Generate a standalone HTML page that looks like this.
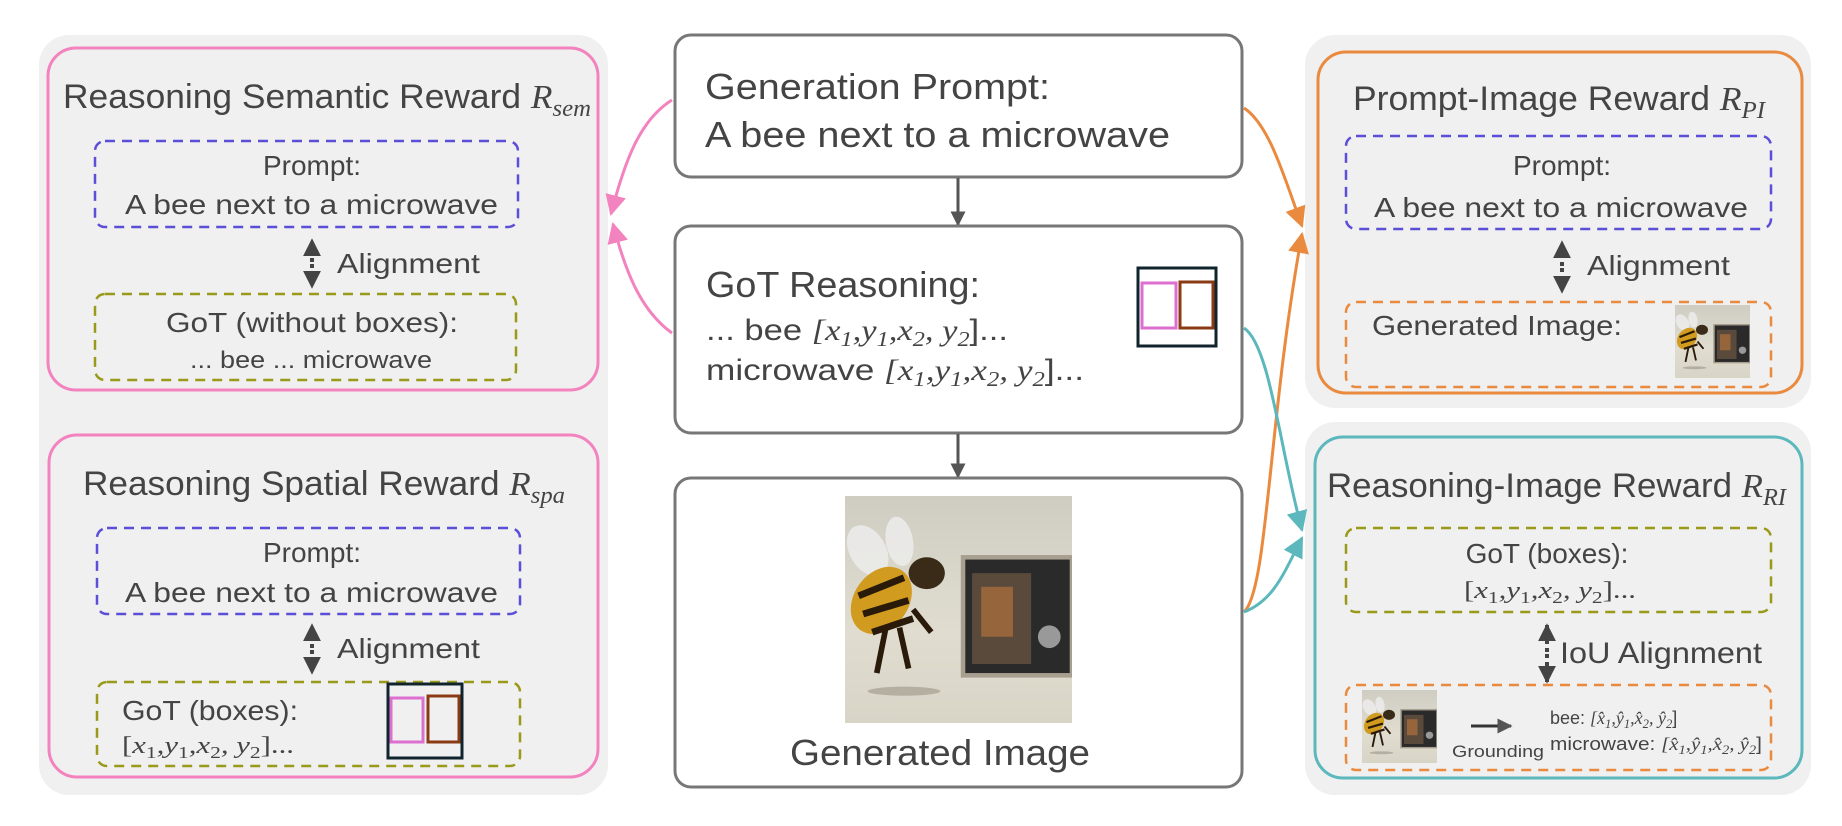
<!DOCTYPE html>
<html><head><meta charset="utf-8"><style>
html,body{margin:0;padding:0;background:#fff;}
svg{display:block;}
text{font-family:"Liberation Sans",sans-serif;fill:#444;}
.m{font-family:"Liberation Serif",serif;font-style:italic;}
.s{font-size:70%;}
</style></head><body>
<svg width="1842" height="826" viewBox="0 0 1842 826" xmlns="http://www.w3.org/2000/svg">
<defs>
<symbol id="bee" viewBox="0 0 100 100" preserveAspectRatio="none">
<defs><linearGradient id="bg" x1="0" y1="0" x2="0" y2="1"><stop offset="0" stop-color="#cfcdc2"/><stop offset="0.6" stop-color="#e0ddd0"/><stop offset="1" stop-color="#d8d4c6"/></linearGradient></defs>
<rect width="100" height="100" fill="url(#bg)"/>
<rect x="52" y="27" width="48" height="52" fill="#2a2a2a"/>
<rect x="52" y="27" width="48" height="52" fill="none" stroke="#a89f90" stroke-width="2"/>
<rect x="56" y="34" width="26" height="40" fill="#5a4a3c"/>
<rect x="60" y="40" width="14" height="22" fill="#b0703c" opacity="0.7"/>
<circle cx="90" cy="62" r="5" fill="#999"/>
<ellipse cx="10" cy="24" rx="8" ry="12" fill="#eee" opacity="0.8" transform="rotate(-30 10 24)"/>
<ellipse cx="24" cy="20" rx="6" ry="11" fill="#eee" opacity="0.8" transform="rotate(-10 24 20)"/>
<ellipse cx="16" cy="46" rx="12" ry="16" fill="#d19b1f" transform="rotate(35 16 46)"/>
<path d="M6 44 L26 36 M8 52 L28 46 M12 60 L30 54" stroke="#2a1a0a" stroke-width="3"/>
<ellipse cx="36" cy="34" rx="8" ry="7" fill="#3a2a18"/>
<path d="M18 58 L14 78 M24 58 L28 76 M30 50 L38 60" stroke="#2a1a0a" stroke-width="2.5"/>
<ellipse cx="26" cy="86" rx="16" ry="2" fill="#9a9486" opacity="0.6"/>
</symbol>
<marker id="ap" viewBox="0 0 10 10" refX="9" refY="5" markerWidth="7" markerHeight="7" orient="auto"><path d="M0 0 L10 5 L0 10 Z" fill="#f383be"/></marker>
<marker id="ao" viewBox="0 0 10 10" refX="9" refY="5" markerWidth="7" markerHeight="7" orient="auto"><path d="M0 0 L10 5 L0 10 Z" fill="#ea8a3e"/></marker>
<marker id="at" viewBox="0 0 10 10" refX="9" refY="5" markerWidth="7" markerHeight="7" orient="auto"><path d="M0 0 L10 5 L0 10 Z" fill="#5cb8bc"/></marker>
<marker id="ag" viewBox="0 0 10 10" refX="9" refY="5" markerWidth="5" markerHeight="5" orient="auto"><path d="M0 0 L10 5 L0 10 Z" fill="#555"/></marker>
<marker id="ad" viewBox="0 0 10 10" refX="9" refY="5" markerWidth="4.5" markerHeight="4.5" orient="auto"><path d="M0 0 L10 5 L0 10 Z" fill="#444"/></marker>
</defs>

<!-- gray backgrounds -->
<rect x="39" y="35" width="569" height="760" rx="30" fill="#f0f0f0"/>
<rect x="1305" y="35" width="506" height="373" rx="30" fill="#f0f0f0"/>
<rect x="1305" y="422" width="506" height="373" rx="30" fill="#f0f0f0"/>

<!-- LEFT top: semantic -->
<rect x="48" y="48" width="550" height="342" rx="28" fill="none" stroke="#f383be" stroke-width="3"/>
<text x="63" y="108" font-size="34" textLength="528" lengthAdjust="spacingAndGlyphs">Reasoning Semantic Reward <tspan class="m">R</tspan><tspan class="m s" dy="8">sem</tspan></text>
<rect x="95" y="141" width="423" height="86" rx="10" fill="none" stroke="#5a4fd6" stroke-width="2.5" stroke-dasharray="10 7"/>
<text x="312" y="175" font-size="28" text-anchor="middle" fill="#555">Prompt:</text>
<text x="125" y="214" font-size="28" textLength="373" lengthAdjust="spacingAndGlyphs" fill="#555">A bee next to a microwave</text>
<line x1="312" y1="262" x2="312" y2="240" stroke="#444" stroke-width="4" stroke-dasharray="4 4" marker-end="url(#ad)"/>
<line x1="312" y1="264" x2="312" y2="287" stroke="#444" stroke-width="4" stroke-dasharray="4 4" marker-end="url(#ad)"/>
<text x="337" y="273" font-size="28" textLength="143" lengthAdjust="spacingAndGlyphs">Alignment</text>
<rect x="95" y="294" width="421" height="86" rx="10" fill="none" stroke="#9a9a1a" stroke-width="2.5" stroke-dasharray="10 7"/>
<text x="166" y="332" font-size="28" textLength="292" lengthAdjust="spacingAndGlyphs" fill="#555">GoT (without boxes):</text>
<text x="190" y="368" font-size="24" textLength="242" lengthAdjust="spacingAndGlyphs" fill="#555">... bee ... microwave</text>

<!-- LEFT bottom: spatial -->
<rect x="49" y="435" width="549" height="342" rx="28" fill="none" stroke="#f383be" stroke-width="3"/>
<text x="83" y="495" font-size="34" textLength="482" lengthAdjust="spacingAndGlyphs">Reasoning Spatial Reward <tspan class="m">R</tspan><tspan class="m s" dy="8">spa</tspan></text>
<rect x="97" y="528" width="423" height="86" rx="10" fill="none" stroke="#5a4fd6" stroke-width="2.5" stroke-dasharray="10 7"/>
<text x="312" y="562" font-size="28" text-anchor="middle" fill="#555">Prompt:</text>
<text x="125" y="602" font-size="28" textLength="373" lengthAdjust="spacingAndGlyphs" fill="#555">A bee next to a microwave</text>
<line x1="312" y1="648" x2="312" y2="625" stroke="#444" stroke-width="4" stroke-dasharray="4 4" marker-end="url(#ad)"/>
<line x1="312" y1="650" x2="312" y2="673" stroke="#444" stroke-width="4" stroke-dasharray="4 4" marker-end="url(#ad)"/>
<text x="337" y="658" font-size="28" textLength="143" lengthAdjust="spacingAndGlyphs">Alignment</text>
<rect x="97" y="682" width="423" height="84" rx="10" fill="none" stroke="#9a9a1a" stroke-width="2.5" stroke-dasharray="10 7"/>
<text x="122" y="720" font-size="28" textLength="176" lengthAdjust="spacingAndGlyphs" fill="#555">GoT (boxes):</text>
<text x="122" y="753" font-size="24" class="m" textLength="172" lengthAdjust="spacingAndGlyphs" fill="#555"><tspan style="font-style:normal">[</tspan>x<tspan class="s" dy="5" style="font-style:normal">1</tspan><tspan dy="-5">,y</tspan><tspan class="s" dy="5" style="font-style:normal">1</tspan><tspan dy="-5">,x</tspan><tspan class="s" dy="5" style="font-style:normal">2</tspan><tspan dy="-5">, y</tspan><tspan class="s" dy="5" style="font-style:normal">2</tspan><tspan dy="-5" style="font-style:normal">]...</tspan></text>
<rect x="388" y="684" width="74" height="74" fill="none" stroke="#10242e" stroke-width="3"/>
<rect x="391" y="698" width="32" height="44" fill="none" stroke="#dd6fd0" stroke-width="3"/>
<rect x="428" y="696" width="31" height="46" fill="none" stroke="#8a3a14" stroke-width="3"/>

<!-- MIDDLE -->
<rect x="675" y="35" width="567" height="142" rx="16" fill="#fff" stroke="#777" stroke-width="3"/>
<text x="705" y="99" font-size="36" textLength="345" lengthAdjust="spacingAndGlyphs">Generation Prompt:</text>
<text x="705" y="147" font-size="36" textLength="465" lengthAdjust="spacingAndGlyphs" fill="#555">A bee next to a microwave</text>
<line x1="958" y1="178" x2="958" y2="225" stroke="#555" stroke-width="3" marker-end="url(#ag)"/>
<rect x="675" y="226" width="567" height="207" rx="16" fill="#fff" stroke="#777" stroke-width="3"/>
<text x="706" y="297" font-size="36" textLength="274" lengthAdjust="spacingAndGlyphs">GoT Reasoning:</text>
<text x="706" y="340" font-size="30" textLength="302" lengthAdjust="spacingAndGlyphs">... bee <tspan class="m">[x</tspan><tspan class="m s" dy="6">1</tspan><tspan class="m" dy="-6">,y</tspan><tspan class="m s" dy="6">1</tspan><tspan class="m" dy="-6">,x</tspan><tspan class="m s" dy="6">2</tspan><tspan class="m" dy="-6">, y</tspan><tspan class="m s" dy="6">2</tspan><tspan dy="-6">]...</tspan></text>
<text x="706" y="380" font-size="30" textLength="378" lengthAdjust="spacingAndGlyphs">microwave <tspan class="m">[x</tspan><tspan class="m s" dy="6">1</tspan><tspan class="m" dy="-6">,y</tspan><tspan class="m s" dy="6">1</tspan><tspan class="m" dy="-6">,x</tspan><tspan class="m s" dy="6">2</tspan><tspan class="m" dy="-6">, y</tspan><tspan class="m s" dy="6">2</tspan><tspan dy="-6">]...</tspan></text>
<rect x="1138" y="268" width="78" height="78" fill="none" stroke="#10242e" stroke-width="3"/>
<rect x="1142" y="283" width="34" height="45" fill="none" stroke="#dd6fd0" stroke-width="3"/>
<rect x="1180" y="282" width="33" height="46" fill="none" stroke="#8a3a14" stroke-width="3"/>
<line x1="958" y1="434" x2="958" y2="477" stroke="#555" stroke-width="3" marker-end="url(#ag)"/>
<rect x="675" y="478" width="567" height="309" rx="16" fill="#fff" stroke="#777" stroke-width="3"/>
<use href="#bee" x="845" y="496" width="227" height="227"/>
<text x="790" y="765" font-size="36" textLength="300" lengthAdjust="spacingAndGlyphs">Generated Image</text>

<!-- RIGHT top: prompt-image -->
<rect x="1318" y="52" width="484" height="341" rx="28" fill="none" stroke="#ea8a3e" stroke-width="3"/>
<text x="1353" y="110" font-size="34" textLength="412" lengthAdjust="spacingAndGlyphs">Prompt-Image Reward <tspan class="m">R</tspan><tspan class="m s" dy="8">PI</tspan></text>
<rect x="1346" y="136" width="425" height="93" rx="10" fill="none" stroke="#5a4fd6" stroke-width="2.5" stroke-dasharray="10 7"/>
<text x="1562" y="175" font-size="28" text-anchor="middle" fill="#555">Prompt:</text>
<text x="1374" y="217" font-size="28" textLength="374" lengthAdjust="spacingAndGlyphs" fill="#555">A bee next to a microwave</text>
<line x1="1562" y1="266" x2="1562" y2="242" stroke="#444" stroke-width="4" stroke-dasharray="4 4" marker-end="url(#ad)"/>
<line x1="1562" y1="268" x2="1562" y2="292" stroke="#444" stroke-width="4" stroke-dasharray="4 4" marker-end="url(#ad)"/>
<text x="1587" y="275" font-size="28" textLength="143" lengthAdjust="spacingAndGlyphs">Alignment</text>
<rect x="1346" y="302" width="425" height="85" rx="10" fill="none" stroke="#ea8a3e" stroke-width="2.5" stroke-dasharray="10 7"/>
<text x="1372" y="335" font-size="28" textLength="250" lengthAdjust="spacingAndGlyphs" fill="#555">Generated Image:</text>
<use href="#bee" x="1675" y="305" width="75" height="73"/>

<!-- RIGHT bottom: reasoning-image -->
<rect x="1315" y="437" width="487" height="341" rx="28" fill="none" stroke="#5cb8bc" stroke-width="3"/>
<text x="1327" y="497" font-size="34" textLength="459" lengthAdjust="spacingAndGlyphs">Reasoning-Image Reward <tspan class="m">R</tspan><tspan class="m s" dy="8">RI</tspan></text>
<rect x="1346" y="528" width="425" height="84" rx="10" fill="none" stroke="#9a9a1a" stroke-width="2.5" stroke-dasharray="10 7"/>
<text x="1547" y="563" font-size="28" text-anchor="middle" fill="#555">GoT (boxes):</text>
<text x="1464" y="598" font-size="24" class="m" textLength="172" lengthAdjust="spacingAndGlyphs" fill="#555"><tspan style="font-style:normal">[</tspan>x<tspan class="s" dy="5" style="font-style:normal">1</tspan><tspan dy="-5">,y</tspan><tspan class="s" dy="5" style="font-style:normal">1</tspan><tspan dy="-5">,x</tspan><tspan class="s" dy="5" style="font-style:normal">2</tspan><tspan dy="-5">, y</tspan><tspan class="s" dy="5" style="font-style:normal">2</tspan><tspan dy="-5" style="font-style:normal">]...</tspan></text>
<line x1="1547" y1="652" x2="1547" y2="625" stroke="#444" stroke-width="4" stroke-dasharray="4 4" marker-end="url(#ad)"/>
<line x1="1547" y1="654" x2="1547" y2="682" stroke="#444" stroke-width="4" stroke-dasharray="4 4" marker-end="url(#ad)"/>
<text x="1560" y="663" font-size="30" textLength="202" lengthAdjust="spacingAndGlyphs">IoU Alignment</text>
<rect x="1346" y="685" width="425" height="85" rx="10" fill="none" stroke="#ea8a3e" stroke-width="2.5" stroke-dasharray="10 7"/>
<use href="#bee" x="1362" y="690" width="75" height="73"/>
<line x1="1471" y1="726" x2="1511" y2="726" stroke="#333" stroke-width="3" marker-end="url(#ag)"/>
<text x="1452" y="757" font-size="17" textLength="92" lengthAdjust="spacingAndGlyphs">Grounding</text>
<text x="1550" y="724" font-size="18" fill="#444">bee: <tspan class="m">[x̂</tspan><tspan class="m s" dy="4">1</tspan><tspan class="m" dy="-4">,ŷ</tspan><tspan class="m s" dy="4">1</tspan><tspan class="m" dy="-4">,x̂</tspan><tspan class="m s" dy="4">2</tspan><tspan class="m" dy="-4">, ŷ</tspan><tspan class="m s" dy="4">2</tspan><tspan dy="-4">]</tspan></text>
<text x="1550" y="750" font-size="18" textLength="212" lengthAdjust="spacingAndGlyphs" fill="#444">microwave: <tspan class="m">[x̂</tspan><tspan class="m s" dy="4">1</tspan><tspan class="m" dy="-4">,ŷ</tspan><tspan class="m s" dy="4">1</tspan><tspan class="m" dy="-4">,x̂</tspan><tspan class="m s" dy="4">2</tspan><tspan class="m" dy="-4">, ŷ</tspan><tspan class="m s" dy="4">2</tspan><tspan dy="-4">]</tspan></text>

<!-- connectors -->
<path d="M672 100 C640 120 625 160 611 214" fill="none" stroke="#f383be" stroke-width="3" marker-end="url(#ap)"/>
<path d="M672 333 C640 310 625 270 613 224" fill="none" stroke="#f383be" stroke-width="3" marker-end="url(#ap)"/>
<path d="M1244 108 C1270 125 1285 180 1302 226" fill="none" stroke="#ea8a3e" stroke-width="3" marker-end="url(#ao)"/>
<path d="M1244 612 C1268 590 1268 420 1302 234" fill="none" stroke="#ea8a3e" stroke-width="3" marker-end="url(#ao)"/>
<path d="M1244 328 C1270 345 1280 450 1302 530" fill="none" stroke="#5cb8bc" stroke-width="3" marker-end="url(#at)"/>
<path d="M1244 612 C1275 600 1285 570 1302 538" fill="none" stroke="#5cb8bc" stroke-width="3" marker-end="url(#at)"/>
</svg>
</body></html>
